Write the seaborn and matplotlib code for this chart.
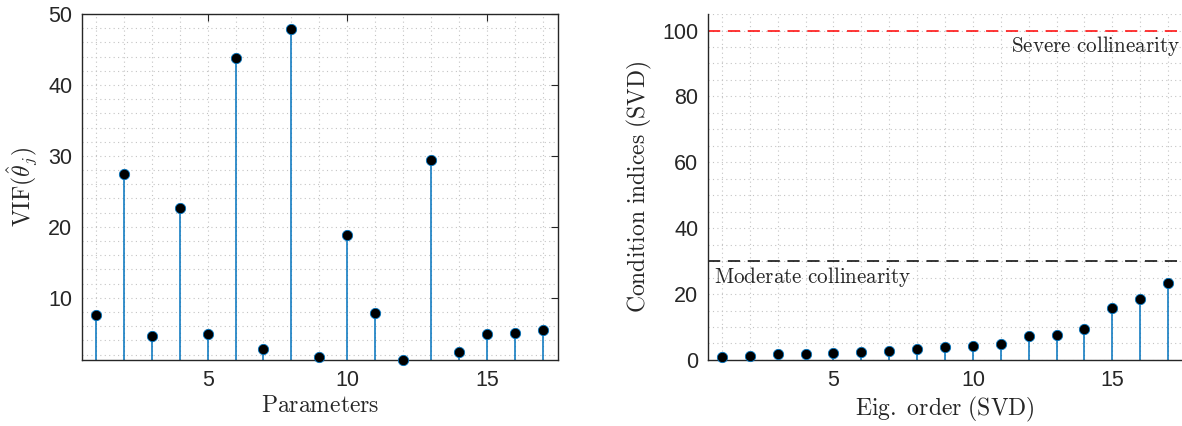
import matplotlib as mpl
mpl.use('Agg')
import matplotlib.pyplot as plt
from matplotlib.ticker import MultipleLocator, FixedLocator
import seaborn as sns
import pandas as pd

# Values
params = list(range(1, 18))
vif = [7.6, 27.4, 4.6, 22.6, 4.9, 43.8, 2.8, 47.9, 1.65, 18.8, 7.9, 1.23, 29.4, 2.4, 4.9, 5.0, 5.5]
eig_order = list(range(1, 18))
cond_idx = [0.9, 1.3, 1.7, 1.8, 2.1, 2.5, 2.8, 3.3, 3.8, 4.3, 4.7, 7.3, 7.6, 9.4, 15.8, 18.4, 23.5]
moderate_level = 30
severe_level = 100

sns.set_theme(style='white')
plt.rcParams['font.family'] = ['Liberation Sans', 'DejaVu Sans']
plt.rcParams['mathtext.fontset'] = 'cm'

stem_color = '#0072BD'
axis_color = '#262626'


def stem(ax, x, y, base):
    ax.vlines(x, base, y, color=stem_color, linewidth=1.1, zorder=2)
    df = pd.DataFrame({'x': x, 'y': y})
    sns.scatterplot(data=df, x='x', y='y', ax=ax, color='black', s=55,
                    edgecolor=stem_color, linewidth=0.6, zorder=3, clip_on=False)


def style_axes(ax, box):
    ax.grid(True, which='both', linestyle=(0, (1, 3)), color='#c4c4c4', linewidth=0.8)
    ax.set_axisbelow(True)
    for side in ['left', 'bottom', 'top', 'right']:
        ax.spines[side].set_color(axis_color)
        ax.spines[side].set_linewidth(1.0)
        ax.spines[side].set_visible(box or side in ('left', 'bottom'))
    ax.tick_params(which='major', direction='in', length=5, width=0.8, color=axis_color,
                   labelsize=15.5, labelcolor=axis_color, top=box, right=box, pad=7)
    ax.tick_params(which='minor', length=0)


fig = plt.figure(figsize=(11.82, 4.26), dpi=100)
ax1 = fig.add_axes([0.0694, 0.155, 0.4027, 0.812])
ax2 = fig.add_axes([0.599, 0.155, 0.401, 0.812])

# Left: VIF
stem(ax1, params, vif, 0)
ax1.set_xlim(0.5, 17.55)
ax1.set_ylim(min(vif), 50)
ax1.xaxis.set_major_locator(FixedLocator([5, 10, 15]))
ax1.yaxis.set_major_locator(FixedLocator([10, 20, 30, 40, 50]))
ax1.xaxis.set_minor_locator(MultipleLocator(1))
ax1.yaxis.set_minor_locator(MultipleLocator(2))
style_axes(ax1, True)
ax1.set_xlabel(r'$\mathrm{Parameters}$', fontsize=17, labelpad=3)
ax1.set_ylabel(r'$\mathrm{VIF}(\hat{\theta}_j)$', fontsize=17, labelpad=6)

# Right: condition indices
stem(ax2, eig_order, cond_idx, 0)
ax2.axhline(severe_level, color='#FF0000', linestyle=(0, (8, 5)), linewidth=1.1, zorder=2)
ax2.axhline(moderate_level, color='black', linestyle=(0, (8, 5)), linewidth=1.1, zorder=2)
ax2.text(17.45, severe_level - 1.2, r'$\mathrm{Severe\ collinearity}$', ha='right', va='top', fontsize=15.2)
ax2.text(0.7, moderate_level - 1.2, r'$\mathrm{Moderate\ collinearity}$', ha='left', va='top', fontsize=15.2)
ax2.set_xlim(0.5, 17.5)
ax2.set_ylim(0, 105)
ax2.xaxis.set_major_locator(FixedLocator([5, 10, 15]))
ax2.yaxis.set_major_locator(FixedLocator([0, 20, 40, 60, 80, 100]))
ax2.xaxis.set_minor_locator(MultipleLocator(1))
ax2.yaxis.set_minor_locator(MultipleLocator(5))
style_axes(ax2, False)
ax2.set_xlabel(r'$\mathrm{Eig.\ order\ (SVD)}$', fontsize=17, labelpad=3)
ax2.set_ylabel(r'$\mathrm{Condition\ indices\ (SVD)}$', fontsize=17, labelpad=6)

fig.savefig('out.png', dpi=100)
